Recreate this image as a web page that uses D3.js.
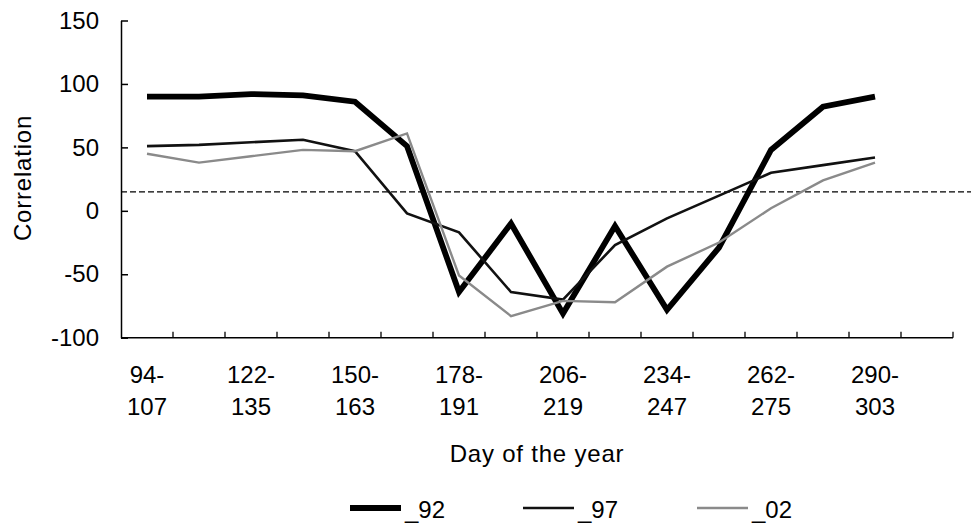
<!DOCTYPE html>
<html>
<head>
<meta charset="utf-8">
<script src="https://cdn.jsdelivr.net/npm/d3@7"></script>
<style>
  html, body { margin: 0; padding: 0; background: #fff; }
  svg { display: block; font-family: "Liberation Sans", Arial, Helvetica, sans-serif; }
</style>
</head>
<body>
<svg id="chart" width="971" height="529"></svg>
<script>
// Fourteen-day periods (day of year)
const categories = [
  "94-107", "108-121", "122-135", "136-149", "150-163", "164-177", "178-191", "192-205",
  "206-219", "220-233", "234-247", "248-261", "262-275", "276-289", "290-303", "304-317"
];
// Only every other period is labelled on the axis
const labelledCategories = ["94-107", "122-135", "150-163", "178-191", "206-219", "234-247", "262-275", "290-303"];

const yTicks = [-100, -50, 0, 50, 100, 150];
const threshold = 15;

const series92 = [90, 90, 92, 91, 86, 51, -64, -10, -81, -12, -78, -29, 48, 82, 90];
const series97 = [51, 52, 54, 56, 47, -2, -17, -64, -70, -27, -6, 12, 30, 36, 42];
const series02 = [45, 38, 43, 48, 47, 61, -51, -83, -71, -72, -44, -25, 2, 24, 38];

const seriesList = [
  { name: "_92", values: series92, color: "#000", width: 5.8 },
  { name: "_97", values: series97, color: "#111", width: 2.6 },
  { name: "_02", values: series02, color: "#8a8a8a", width: 2.4 }
];

const svg = d3.select("#chart");
const plotLeft = 121, plotRight = 953, plotTop = 20.5, plotBottom = 337.7;

const x = d3.scaleBand().domain(categories).range([plotLeft, plotRight]).padding(0);
const y = d3.scaleLinear().domain([-100, 150]).range([plotBottom, plotTop]);
const cx = c => x(c) + x.bandwidth() / 2;

// Threshold line
svg.append("line")
  .attr("x1", plotLeft).attr("x2", 971)
  .attr("y1", y(threshold)).attr("y2", y(threshold))
  .attr("stroke", "#000").attr("stroke-width", 1.3)
  .attr("stroke-dasharray", "6,3");

// Series lines
const line = d3.line()
  .x((d, i) => cx(categories[i]))
  .y(d => y(d));

svg.selectAll("path.series")
  .data(seriesList)
  .join("path")
  .attr("class", "series")
  .attr("d", d => line(d.values))
  .attr("fill", "none")
  .attr("stroke", d => d.color)
  .attr("stroke-width", d => d.width)
  .attr("stroke-linejoin", "miter");

// Y axis: inward ticks, labels outside, plain hyphen for negatives
const yAxis = d3.axisLeft(y)
  .tickValues(yTicks)
  .tickFormat(d => String(d))
  .tickSize(-7).tickPadding(22).tickSizeOuter(0);
const gy = svg.append("g").attr("transform", `translate(${plotLeft},0)`).call(yAxis);
gy.select(".domain").attr("stroke", "#000").attr("stroke-width", 1.5);
gy.selectAll(".tick line").attr("stroke", "#000").attr("stroke-width", 1.5);
gy.selectAll(".tick text")
  .attr("font-size", 24).attr("fill", "#000")
  .attr("font-family", "Liberation Sans, Arial, sans-serif");

// X axis line with ticks between categories
svg.append("line")
  .attr("x1", plotLeft).attr("x2", plotRight)
  .attr("y1", plotBottom).attr("y2", plotBottom)
  .attr("stroke", "#000").attr("stroke-width", 1.5);

const boundaries = categories.map(c => x(c)).concat([x(categories[categories.length - 1]) + x.bandwidth()]);
svg.selectAll("line.xtick")
  .data(boundaries.slice(1))
  .join("line")
  .attr("class", "xtick")
  .attr("x1", d => d).attr("x2", d => d)
  .attr("y1", plotBottom).attr("y2", plotBottom - 6)
  .attr("stroke", "#000").attr("stroke-width", 1.3);

// Two-line category labels
const xl = svg.selectAll("text.xlabel")
  .data(labelledCategories)
  .join("text")
  .attr("class", "xlabel")
  .attr("text-anchor", "middle")
  .attr("font-size", 24)
  .attr("fill", "#000");
xl.append("tspan").attr("x", d => cx(d)).attr("y", 383).text(d => d.split("-")[0] + "-");
xl.append("tspan").attr("x", d => cx(d)).attr("y", 415).text(d => d.split("-")[1]);

// Axis titles
svg.append("text")
  .attr("x", 537).attr("y", 462)
  .attr("text-anchor", "middle")
  .attr("font-size", 24).attr("letter-spacing", 0.8)
  .attr("fill", "#000")
  .text("Day of the year");

svg.append("text")
  .attr("transform", "translate(31,178) rotate(-90)")
  .attr("text-anchor", "middle")
  .attr("font-size", 24).attr("letter-spacing", 0.8)
  .attr("fill", "#000")
  .text("Correlation");

// Legend
const legendX = [350, 523, 697];
const lg = svg.selectAll("g.legend")
  .data(seriesList)
  .join("g")
  .attr("class", "legend")
  .attr("transform", (d, i) => `translate(${legendX[i]},508)`);
lg.append("line")
  .attr("x1", 0).attr("x2", 51)
  .attr("y1", 0).attr("y2", 0)
  .attr("stroke", d => d.color)
  .attr("stroke-width", d => d.width);
lg.append("text")
  .attr("x", 55).attr("y", 10)
  .attr("font-size", 24)
  .attr("fill", "#000")
  .text(d => d.name);
</script>
</body>
</html>
